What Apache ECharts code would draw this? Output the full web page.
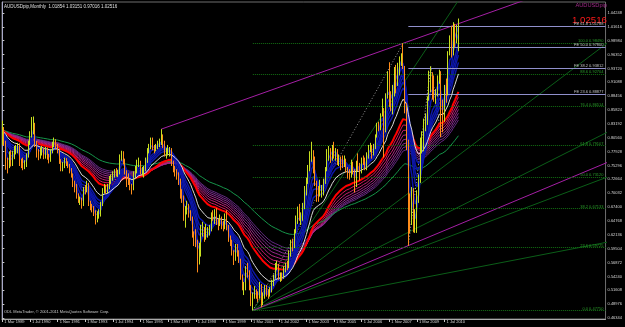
<!DOCTYPE html>
<html><head><meta charset="utf-8">
<script src="https://cdn.jsdelivr.net/npm/echarts@6/dist/echarts.min.js"></script>
<style>html,body{margin:0;padding:0;background:#000;}#c{width:625px;height:327px;}</style>
</head><body><div id="c"></div>
<script>
// Monthly AUDUSD bars, Mar 1989 .. Mar 2011 (month index 0 = Mar 1989)
const firstOpen = 0.808;
const closes = [
0.820,0.797,0.753,0.751,0.772,0.760,0.773,0.782,0.782,0.791,
0.758,0.756,0.754,0.754,0.770,0.795,0.813,0.820,0.832,0.794,0.773,0.772,
0.781,0.782,0.770,0.783,0.769,0.764,0.780,0.793,0.799,0.789,0.781,0.760,
0.747,0.753,0.763,0.756,0.753,0.742,0.735,0.717,0.715,0.697,0.686,0.688,
0.680,0.709,0.708,0.718,0.680,0.674,0.671,0.665,0.648,0.662,0.662,0.679,
0.707,0.711,0.704,0.713,0.727,0.730,0.737,0.740,0.738,0.738,0.770,0.776,
0.762,0.740,0.730,0.723,0.711,0.710,0.737,0.743,0.759,0.759,0.742,0.744,
0.747,0.761,0.782,0.789,0.802,0.787,0.785,0.788,0.796,0.796,0.801,0.796,
0.775,0.781,0.781,0.782,0.757,0.745,0.741,0.736,0.724,0.697,0.694,0.654,
0.670,0.673,0.663,0.654,0.621,0.618,0.608,0.570,0.593,0.625,0.634,0.613,
0.619,0.626,0.631,0.660,0.657,0.663,0.645,0.644,0.651,0.637,0.634,0.656,
0.633,0.613,0.604,0.586,0.577,0.599,0.588,0.572,0.542,0.521,0.522,0.558,
0.551,0.523,0.488,0.508,0.511,0.509,0.505,0.524,0.490,0.504,0.518,0.512,
0.506,0.518,0.532,0.541,0.563,0.563,0.542,0.544,0.542,0.558,0.564,0.563,
0.587,0.605,0.603,0.629,0.654,0.670,0.653,0.653,0.678,0.709,0.727,0.752,
0.762,0.783,0.762,0.718,0.708,0.696,0.703,0.704,0.724,0.745,0.780,0.780,
0.772,0.788,0.773,0.780,0.760,0.762,0.759,0.755,0.762,0.746,0.736,0.734,
0.758,0.742,0.716,0.760,0.753,0.743,0.766,0.763,0.746,0.774,0.787,0.789,
0.775,0.789,0.809,0.829,0.827,0.849,0.852,0.819,0.887,0.926,0.887,0.877,
0.896,0.932,0.913,0.943,0.956,0.960,0.940,0.861,0.788,0.661,0.655,0.701,
0.632,0.637,0.690,0.726,0.800,0.804,0.835,0.844,0.881,0.901,0.916,0.897,
0.883,0.892,0.917,0.925,0.848,0.843,0.904,0.890,0.967,0.980,0.961,1.022,
0.996,1.019,1.025];
const highs = [
0.838,0.826,0.800,0.768,0.780,0.782,0.781,0.790,0.792,0.796,
0.795,0.766,0.768,0.763,0.776,0.800,0.818,0.845,0.846,0.834,0.800,0.784,
0.787,0.790,0.786,0.788,0.787,0.775,0.784,0.798,0.806,0.803,0.794,0.784,
0.765,0.760,0.768,0.767,0.761,0.756,0.748,0.738,0.724,0.718,0.700,0.694,
0.692,0.712,0.716,0.724,0.720,0.686,0.680,0.676,0.668,0.666,0.670,0.684,
0.710,0.718,0.716,0.718,0.733,0.736,0.742,0.746,0.748,0.745,0.774,0.781,
0.780,0.766,0.744,0.738,0.728,0.718,0.742,0.752,0.764,0.768,0.762,0.750,
0.752,0.768,0.786,0.794,0.806,0.806,0.792,0.794,0.800,0.804,0.822,0.812,
0.800,0.786,0.792,0.788,0.786,0.762,0.752,0.746,0.740,0.728,0.708,0.696,
0.676,0.686,0.680,0.668,0.656,0.628,0.632,0.612,0.606,0.640,0.646,0.636,
0.642,0.636,0.640,0.664,0.668,0.670,0.672,0.652,0.660,0.656,0.648,0.662,
0.668,0.640,0.620,0.612,0.592,0.604,0.604,0.592,0.576,0.546,0.532,0.562,
0.568,0.554,0.526,0.512,0.524,0.518,0.514,0.532,0.528,0.512,0.526,0.526,
0.518,0.522,0.536,0.546,0.568,0.572,0.566,0.550,0.550,0.562,0.568,0.572,
0.592,0.612,0.614,0.632,0.658,0.675,0.680,0.664,0.682,0.714,0.730,0.754,
0.780,0.798,0.782,0.770,0.724,0.714,0.726,0.716,0.728,0.750,0.784,0.790,
0.786,0.792,0.798,0.786,0.784,0.774,0.770,0.772,0.772,0.766,0.750,0.746,
0.764,0.760,0.746,0.762,0.776,0.758,0.768,0.772,0.768,0.778,0.792,0.796,
0.792,0.794,0.812,0.834,0.836,0.852,0.880,0.862,0.890,0.932,0.949,0.894,
0.906,0.940,0.944,0.948,0.960,0.966,0.985,0.942,0.872,0.802,0.700,0.712,
0.710,0.670,0.706,0.736,0.806,0.818,0.842,0.852,0.884,0.933,0.941,0.930,
0.924,0.898,0.924,0.935,0.932,0.878,0.906,0.918,0.970,1.000,1.018,1.025,
1.022,1.020,1.032];
const lows = [
0.792,0.790,0.745,0.738,0.748,0.751,0.752,0.765,0.774,0.776,
0.752,0.748,0.744,0.746,0.750,0.768,0.792,0.806,0.812,0.788,0.768,0.763,
0.766,0.772,0.765,0.766,0.764,0.757,0.760,0.776,0.788,0.784,0.776,0.756,
0.742,0.742,0.748,0.752,0.748,0.738,0.730,0.712,0.702,0.690,0.682,0.678,
0.671,0.676,0.698,0.702,0.676,0.668,0.664,0.657,0.641,0.645,0.652,0.656,
0.676,0.700,0.699,0.700,0.708,0.718,0.724,0.730,0.732,0.731,0.736,0.762,
0.755,0.736,0.712,0.716,0.706,0.698,0.706,0.728,0.738,0.750,0.736,0.734,
0.730,0.742,0.758,0.776,0.784,0.782,0.776,0.780,0.784,0.788,0.792,0.786,
0.770,0.766,0.772,0.770,0.752,0.740,0.732,0.726,0.716,0.690,0.682,0.648,
0.635,0.660,0.654,0.648,0.616,0.600,0.598,0.550,0.565,0.580,0.618,0.608,
0.612,0.616,0.620,0.628,0.648,0.642,0.640,0.630,0.638,0.632,0.628,0.632,
0.630,0.608,0.600,0.582,0.564,0.572,0.580,0.568,0.536,0.516,0.507,0.516,
0.540,0.516,0.486,0.478,0.500,0.500,0.494,0.500,0.484,0.488,0.500,0.504,
0.500,0.504,0.512,0.524,0.538,0.554,0.536,0.532,0.534,0.538,0.550,0.554,
0.558,0.580,0.590,0.596,0.624,0.642,0.648,0.640,0.648,0.670,0.696,0.718,
0.742,0.760,0.738,0.714,0.684,0.684,0.694,0.692,0.696,0.718,0.742,0.762,
0.758,0.762,0.766,0.762,0.754,0.752,0.744,0.748,0.750,0.740,0.728,0.726,
0.730,0.736,0.702,0.712,0.742,0.724,0.738,0.754,0.744,0.744,0.766,0.778,
0.766,0.772,0.784,0.806,0.818,0.820,0.846,0.768,0.816,0.880,0.864,0.856,
0.850,0.884,0.890,0.904,0.924,0.942,0.936,0.852,0.782,0.601,0.624,0.640,
0.626,0.625,0.625,0.682,0.720,0.776,0.780,0.818,0.830,0.876,0.892,0.878,
0.874,0.870,0.884,0.908,0.807,0.816,0.836,0.872,0.886,0.962,0.958,0.962,
0.978,0.985,0.970];

const xTickMonths = [0,16,32,48,64,80,96,112,128,144,160,176,192,208,224,240,256];
const xTickLabels = ['1 Mar 1989','1 Jul 1990','1 Nov 1991','1 Mar 1993','1 Jul 1994','1 Nov 1995','1 Mar 1997','1 Jul 1998','1 Nov 1999','1 Mar 2001','1 Jul 2002','1 Nov 2003','1 Mar 2005','1 Jul 2006','1 Nov 2007','1 Mar 2009','1 Jul 2010'];
const yTickValues = [0.46344,0.48976,0.51608,0.54240,0.56872,0.59504,0.62136,0.64768,0.67400,0.70032,0.72664,0.75296,0.77928,0.80560,0.83192,0.85824,0.88456,0.91088,0.93720,0.96352,0.98984,1.01616,1.04248];

// Fibonacci retracement (2001 low -> 2008 high)
const fibAnchors = [[145,0.4775],[232,0.9849]];
const fibStartMonth = 145;
const fibPercents = ['0.0','23.6','38.2','50.0','61.8','76.4','88.6','100.0'];
const fibPrices = [0.47750,0.59725,0.67133,0.73120,0.79107,0.86514,0.92704,0.98490];
// reversed level names shown near the 2008 anchor
const fibInnerMonth = 230;
const fibInnerNames = ['76.4','61.8','50.0','38.2','23.6'];
const fibInnerPrices = [0.59725,0.67133,0.73120,0.79107,0.86514];
// Fibonacci expansion (A, B, C)
const feAnchors = [[235,0.6009],[248,0.9406],[254,0.8067]];
const feStartMonth = 235;
const fePercents = ['23.6','38.2','50.0','61.8'];
const fePrices = [0.88877,0.93812,0.97800,1.01788];
// trend lines: [month, price] anchor pairs
const upperTrend = [[92,0.822],[232,0.985]];
const lowerTrend = [[145,0.4775],[235,0.6009]];
// fan from 2001 low: second anchor prices at month 232
const fanOrigin = [145,0.4775];
const fanAt232 = [0.5326,0.5850,0.6211,0.6929,0.9081];

const titleText = 'AUDUSDpip,Monthly  1.01854 1.03151 0.97016 1.02516';
const lastPrice = 1.02516;

const X_MIN = -0.2, X_MAX = 349.15, Y_MIN = 0.46153, Y_MAX = 1.06338;

function ema(src, p){ const a = 2/(p+1); let e = src[0]; return src.map((v,i)=>{ if(i>0) e = a*v + (1-a)*e; return [i, e]; }); }
function extend(pair){ const [a,b]=pair; const s=(b[1]-a[1])/(b[0]-a[0]); return [a, [X_MAX+5, a[1]+s*(X_MAX+5-a[0])]]; }

const candles = closes.map((c,i)=>[i, i===0?firstOpen:closes[i-1], c, lows[i], highs[i]]);

const series = [];
function lineS(data, color, width, z, type){ series.push({type:'line', data, symbol:'none', silent:true, z:z||2, lineStyle:{color, width:width||1, type:type||'solid'}, animation:false}); }

fanAt232.forEach(p=>lineS(extend([fanOrigin,[232,p]]), '#0b5e18', 1, 1));
lineS(extend(upperTrend), '#a51fa5', 1, 1);
lineS(extend(lowerTrend), '#a51fa5', 1, 1);
lineS(fibAnchors, '#9a9a9a', 1, 1, [1,2]);
lineS(feAnchors, '#b0b0b0', 1, 2, [1,2]);

const ml = [];
fibPrices.forEach((p,i)=>ml.push([{coord:[fibStartMonth,p], lineStyle:{color:'#137013', type:'dotted', width:1}, label:{formatter:fibPercents[i]+' '+p.toFixed(5), color:'#2a9a2a'}},{coord:[X_MAX,p]}]));
fePrices.forEach((p,i)=>ml.push([{coord:[feStartMonth,p], lineStyle:{color:'#9090cc', type:'solid', width:1}, label:{formatter:'FE '+fePercents[i]+' '+p.toFixed(5), color:'#c0c0c0'}},{coord:[X_MAX,p]}]));
fibInnerPrices.forEach((p,i)=>ml.push([{coord:[fibInnerMonth,p], lineStyle:{opacity:0}, label:{position:'insideStartTop', formatter:fibInnerNames[i], color:'#2a9a2a'}},{coord:[fibInnerMonth+12,p]}]));
series.push({type:'line', data:[], silent:true, z:1, markLine:{symbol:'none', silent:true, animation:false, label:{position:'insideEndTop', fontSize:4, fontFamily:'Liberation Sans', distance:[2,0]}, data:ml}});

[70,65,60,55,50,45,40].forEach((p,i)=>{
  const cols=['#62287f','#722a88','#842a8c','#98288a','#ae2480','#c41e70','#d8165e'];
  lineS(ema(closes,p), cols[i], 1, 3);
});
lineS(ema(closes,100), '#16954a', 1, 3);
lineS(ema(closes,35), '#ff0000', 2, 4);
[15,12,10,8,5,3].forEach(p=>lineS(ema(closes,p), '#0c16a8', 1.5, 4));
lineS(ema(closes,21), '#d8d8d8', 1, 5);

series.push({type:'candlestick', data:candles, barWidth:1, z:6, silent:true, animation:false,
  itemStyle:{color:'#22dd22', color0:'#ff2a1a', borderColor:'#c8e020', borderColor0:'#ff8c1a', borderWidth:1},
  markLine:{symbol:'none', silent:true, animation:false, lineStyle:{opacity:0}, data:[{yAxis:lastPrice}],
    label:{position:'end', formatter:lastPrice.toFixed(5), backgroundColor:'#e8e8e8', color:'#000', fontSize:4, fontFamily:'Liberation Sans', padding:[1,1], distance:2}}});

const chart = echarts.init(document.getElementById('c'), null, {renderer:'canvas'});
chart.setOption({
  backgroundColor:'#000000', animation:false,
  grid:{left:2, top:2, width:607, height:317, show:true, borderColor:'#6e6e6e', borderWidth:1, backgroundColor:'transparent'},
  xAxis:{type:'value', min:X_MIN, max:X_MAX, splitLine:{show:false},
    axisLine:{lineStyle:{color:'#a8a8a8'}},
    axisTick:{customValues:xTickMonths, length:3, lineStyle:{color:'#c8c8c8'}},
    axisLabel:{customValues:xTickMonths, formatter:v=>xTickLabels[xTickMonths.indexOf(Math.round(v))]||'', align:'left', padding:[0,0,0,2], margin:1, fontSize:4, color:'#d8d8d8', fontFamily:'Liberation Sans'}},
  yAxis:{type:'value', position:'right', min:Y_MIN, max:Y_MAX, splitLine:{show:false},
    axisLine:{show:true, lineStyle:{color:'#a8a8c8'}},
    axisTick:{customValues:yTickValues, length:2, lineStyle:{color:'#c8c8c8'}},
    axisLabel:{customValues:yTickValues, formatter:v=>v.toFixed(5), margin:2, fontSize:4, color:'#d8d8d8', fontFamily:'Liberation Sans'}},
  graphic:[
    {type:'text', left:4, top:4, style:{text:titleText, fill:'#e0e0e0', font:'4.5px "Liberation Sans"'}},
    {type:'text', left:4, top:310, style:{text:'ODL MetaTrader, © 2001-2011 MetaQuotes Software Corp.', fill:'#c8c8c8', font:'4px "Liberation Sans"'}},
    {type:'text', right:18, top:2, style:{text:'AUDUSDpip', fill:'#a02a88', font:'5.7px "Liberation Sans"'}},
    {type:'text', right:18, top:15, style:{text:lastPrice.toFixed(5), fill:'#ff1a1a', font:'9.7px "Liberation Sans"'}}
  ],
  series
});
</script></body></html>
